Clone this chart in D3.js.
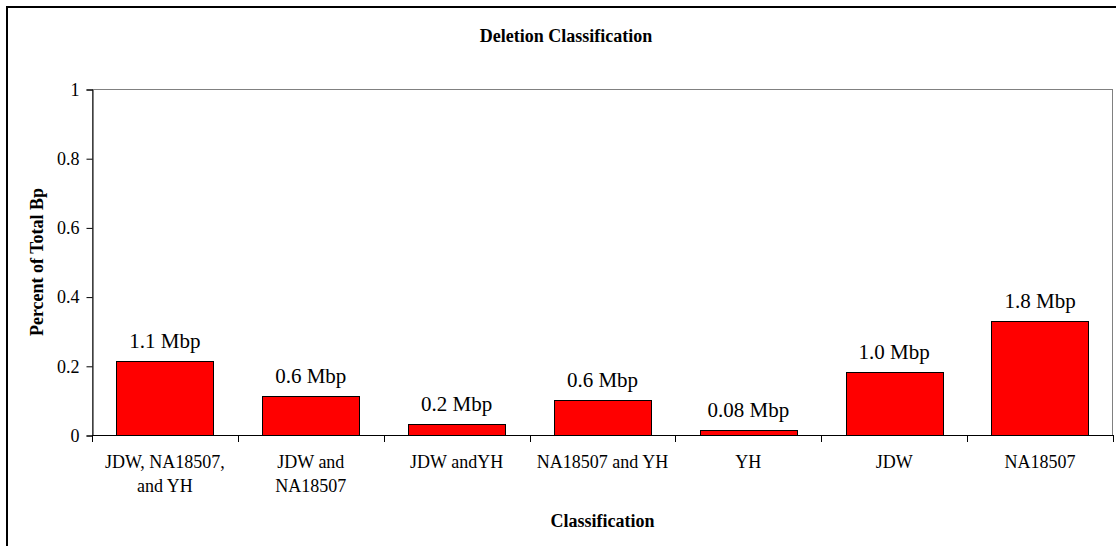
<!DOCTYPE html>
<html>
<meta charset="utf-8">
<title>Deletion Classification</title>
<style>
html,body{
  margin:0;
  background:#fff;
}
</style>
<script src="https://d3js.org/d3.v7.min.js"></script>
<body>
<script>

// chart data
var categories = ["JDW, NA18507,\nand YH", "JDW and\nNA18507", "JDW andYH", "NA18507 and YH", "YH", "JDW", "NA18507"];
var percentValues = [0.213, 0.114, 0.031, 0.101, 0.0145, 0.182, 0.329];
var sizeLabels = ["1.1 Mbp", "0.6 Mbp", "0.2 Mbp", "0.6 Mbp", "0.08 Mbp", "1.0 Mbp", "1.8 Mbp"];
var yTicks = [0, 0.2, 0.4, 0.6, 0.8, 1];

var width = 1116, height = 546;
var margin = {top: 89, right: 3, bottom: 111, left: 92};
var serif = "'Liberation Serif', 'Times New Roman', serif";

var svg = d3.select("body").append("svg")
    .attr("width", width)
    .attr("height", height)
    .style("font-family", serif);

// outer chart border (partly cropped like the original)
svg.append("rect")
    .attr("x", 7).attr("y", 7)
    .attr("width", 1130).attr("height", 560)
    .attr("fill", "none")
    .attr("stroke", "#000")
    .attr("stroke-width", 2);

var x = d3.scaleBand()
    .domain(categories)
    .range([margin.left, width - margin.right])
    .paddingInner(1/3)
    .paddingOuter(1/6);

var y = d3.scaleLinear()
    .domain([0, 1])
    .range([height - margin.bottom, margin.top]);

// plot area border
svg.append("rect")
    .attr("x", margin.left + 0.5)
    .attr("y", margin.top + 0.5)
    .attr("width", width - margin.right - margin.left - 1)
    .attr("height", y(0) - margin.top)
    .attr("fill", "none")
    .attr("stroke", "#808080")
    .attr("stroke-width", 1);

// bars
svg.selectAll("rect.bar")
    .data(percentValues)
  .enter().append("rect")
    .attr("class", "bar")
    .attr("x", function(d, i){ return Math.round(x(categories[i])) + 0.5; })
    .attr("y", function(d){ return Math.round(y(d)) + 0.5; })
    .attr("width", Math.round(x.bandwidth()))
    .attr("height", function(d){ return Math.round(y(0)) - Math.round(y(d)); })
    .attr("fill", "#ff0000")
    .attr("stroke", "#000")
    .attr("stroke-width", 1);

// value labels
svg.selectAll("text.vlabel")
    .data(percentValues)
  .enter().append("text")
    .attr("class", "vlabel")
    .attr("x", function(d, i){ return x(categories[i]) + x.bandwidth() / 2; })
    .attr("y", function(d){ return y(d) - 13; })
    .attr("text-anchor", "middle")
    .style("font-family", serif)
    .style("font-size", "21px")
    .text(function(d, i){ return sizeLabels[i]; });

// y axis
var yAxis = svg.append("g")
    .attr("transform", "translate(" + (margin.left + 0.5) + ",0.5)")
    .call(d3.axisLeft(y).tickValues(yTicks).tickSize(6).tickPadding(7)
      .tickFormat(function(d){ return d3.format("")(+d.toFixed(1)); }));
yAxis.attr("font-family", null);
yAxis.selectAll("path, line").attr("stroke", "#000");
yAxis.selectAll("text")
    .attr("fill", "#000")
    .style("font-size", "18px")
    .style("font-family", serif);

// x axis
var xEdges = d3.range(categories.length + 1).map(function(i){
  return margin.left + i * x.step();
});
var xAxis = svg.append("g");
xAxis.append("line")
    .attr("x1", margin.left).attr("x2", width - margin.right)
    .attr("y1", Math.round(y(0)) + 0.5).attr("y2", Math.round(y(0)) + 0.5)
    .attr("stroke", "#000");
xAxis.selectAll("line.tick")
    .data(xEdges)
  .enter().append("line")
    .attr("class", "tick")
    .attr("x1", function(d){ return Math.round(d) + 0.5; })
    .attr("x2", function(d){ return Math.round(d) + 0.5; })
    .attr("y1", Math.round(y(0)))
    .attr("y2", Math.round(y(0)) + 7)
    .attr("stroke", "#000");

var catText = svg.selectAll("text.cat")
    .data(categories)
  .enter().append("text")
    .attr("class", "cat")
    .attr("text-anchor", "middle")
    .style("font-family", serif)
    .style("font-size", "18px")
    .attr("transform", function(d){
      return "translate(" + (x(d) + x.bandwidth() / 2) + "," + (y(0) + 33) + ")";
    });
catText.selectAll("tspan")
    .data(function(d){ return d.split("\n"); })
  .enter().append("tspan")
    .attr("x", 0)
    .attr("dy", function(d, i){ return i === 0 ? 0 : 24; })
    .text(function(d){ return d; });

// titles
svg.append("text")
    .attr("x", 566)
    .attr("y", 42)
    .attr("text-anchor", "middle")
    .style("font-family", serif)
    .style("font-size", "18px")
    .style("font-weight", "bold")
    .text("Deletion Classification");

svg.append("text")
    .attr("x", (margin.left + width - margin.right) / 2)
    .attr("y", 527)
    .attr("text-anchor", "middle")
    .style("font-family", serif)
    .style("font-size", "18px")
    .style("font-weight", "bold")
    .text("Classification");

svg.append("text")
    .attr("transform", "translate(43," + ((margin.top + y(0)) / 2) + ") rotate(-90)")
    .attr("text-anchor", "middle")
    .style("font-family", serif)
    .style("font-size", "18px")
    .style("font-weight", "bold")
    .text("Percent of Total Bp");

</script>
</body>
</html>
